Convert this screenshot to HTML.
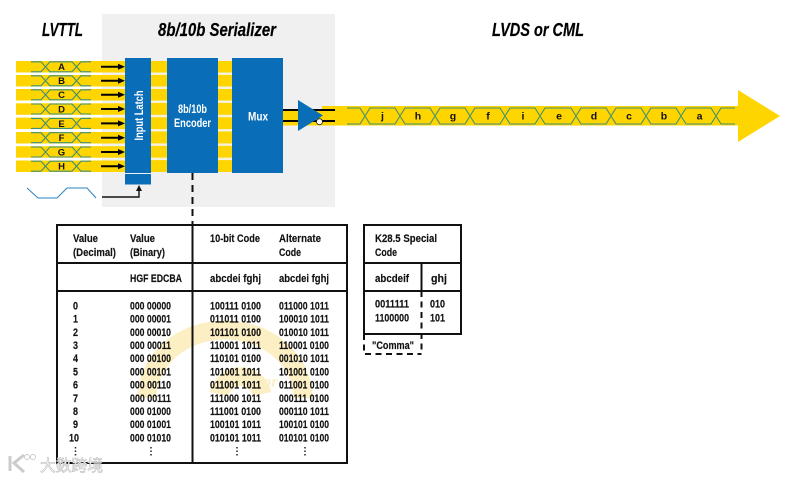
<!DOCTYPE html>
<html><head><meta charset="utf-8"><style>
html,body{margin:0;padding:0;background:#fff}
svg{display:block;filter:blur(0.3px)}
text{font-family:"Liberation Sans","Noto Sans CJK SC",sans-serif;font-weight:bold;font-size:11px;fill:#111}
.t text{font-size:11px;stroke:#111;stroke-width:.15}
.ttl{font-size:18px;font-style:italic;fill:#000;stroke:#000;stroke-width:.2}
.w{fill:#fff;font-size:12px}
.lb{font-size:9.5px;text-anchor:middle}
.lo{font-size:10.5px;text-anchor:middle}
</style></head><body>
<svg width="786" height="479" viewBox="0 0 786 479" xmlns="http://www.w3.org/2000/svg">
<defs>
<g id="eye"><path d="M31 -5H41L50 5H72L81 -5H91M31 5H41L50 -5H72L81 5H91" fill="none" stroke="#3f8f76" stroke-width="1.1"/></g>
<g id="ar"><path d="M101 0H120" stroke="#000" stroke-width="2"/><path d="M118 -3L125 0L118 3Z" fill="#000"/></g>
</defs>
<rect x="102" y="14" width="233" height="193" fill="#f0f0f0"/>

<!-- input bars -->
<g fill="#ffd500">
<rect x="16" y="61" width="109" height="11.5"/><rect x="16" y="75" width="109" height="11.5"/>
<rect x="16" y="89" width="109" height="11.5"/><rect x="16" y="103.3" width="109" height="11.5"/>
<rect x="16" y="117.6" width="109" height="11.5"/><rect x="16" y="132" width="109" height="11.5"/>
<rect x="16" y="146.2" width="109" height="11.5"/><rect x="16" y="160.5" width="109" height="11.5"/>
</g>
<use href="#eye" y="66.8"/><use href="#eye" y="80.8"/><use href="#eye" y="94.8"/><use href="#eye" y="109"/>
<use href="#eye" y="123.4"/><use href="#eye" y="137.7"/><use href="#eye" y="152"/><use href="#eye" y="166.2"/>
<use href="#ar" y="66.8"/><use href="#ar" y="80.8"/><use href="#ar" y="94.8"/><use href="#ar" y="109"/>
<use href="#ar" y="123.4"/><use href="#ar" y="137.7"/><use href="#ar" y="152"/><use href="#ar" y="166.2"/>
<text class="lb" x="61.5" y="70.2">A</text><text class="lb" x="61.5" y="84.2">B</text>
<text class="lb" x="61.5" y="98.2">C</text><text class="lb" x="61.5" y="112.4">D</text>
<text class="lb" x="61.5" y="126.8">E</text><text class="lb" x="61.5" y="141.1">F</text>
<text class="lb" x="61.5" y="155.4">G</text><text class="lb" x="61.5" y="169.6">H</text>

<!-- internal yellow buses -->
<rect x="151" y="61" width="16" height="111" fill="#ffd500"/>
<rect x="218" y="61" width="14" height="111" fill="#ffd500"/>
<g fill="#f6f1d8">
<rect x="151" y="72.5" width="16" height="2.5"/><rect x="151" y="86.5" width="16" height="2.5"/><rect x="151" y="100.5" width="16" height="2.5"/><rect x="151" y="114.8" width="16" height="2.5"/><rect x="151" y="129" width="16" height="2.5"/><rect x="151" y="143.4" width="16" height="2.5"/><rect x="151" y="157.6" width="16" height="2.5"/>
<rect x="218" y="72.5" width="14" height="2.5"/><rect x="218" y="86.5" width="14" height="2.5"/><rect x="218" y="100.5" width="14" height="2.5"/><rect x="218" y="114.8" width="14" height="2.5"/><rect x="218" y="129" width="14" height="2.5"/><rect x="218" y="143.4" width="14" height="2.5"/><rect x="218" y="157.6" width="14" height="2.5"/>
</g>
<!-- blocks -->
<g fill="#0a6db7">
<rect x="125" y="58" width="26" height="115"/><rect x="125" y="174" width="26" height="10.5"/>
<rect x="167" y="58" width="51" height="115"/><rect x="232" y="58" width="51" height="115"/>
</g>
<text class="w" transform="translate(143,140.5) rotate(-90)" textLength="50" lengthAdjust="spacingAndGlyphs">Input Latch</text>
<text class="w" x="178" y="113" textLength="29" lengthAdjust="spacingAndGlyphs">8b/10b</text>
<text class="w" x="174" y="127" textLength="37" lengthAdjust="spacingAndGlyphs">Encoder</text>
<text class="w" x="248" y="120.5" textLength="20" lengthAdjust="spacingAndGlyphs">Mux</text>

<!-- clock -->
<polyline points="27,188 38,198 57,198 67,188 87,188 96,198" fill="none" stroke="#2a82c0" stroke-width="1"/>
<path d="M102 197H139V189" fill="none" stroke="#111" stroke-width="1.4"/>
<path d="M136 191L139 185L142 191Z" fill="#111"/>

<!-- output -->
<rect x="283" y="110" width="50" height="15.5" fill="#ffd500"/>
<rect x="322" y="106" width="417" height="19.5" fill="#ffd500"/>
<path d="M738 90L780 116L738 142Z" fill="#ffd500"/>
<path d="M283 110H335M283 121H335" stroke="#000" stroke-width="2"/>
<path d="M298 100L323 115.5L298 131Z" fill="#0a6db7"/>
<circle cx="319.5" cy="121.7" r="3" fill="#fff" stroke="#222" stroke-width="0.8"/>
<path d="M347 108H360L370 124H395L405 108H430L440 124H465L475 108H500L510 124H535L545 108H571L581 124H606L616 108H641L651 124H676L686 108H711L721 124H735M347 124H360L370 108H395L405 124H430L440 108H465L475 124H500L510 108H535L545 124H571L581 108H606L616 124H641L651 108H676L686 124H711L721 108H735" fill="none" stroke="#3f8f76" stroke-width="1.1"/>
<text class="lo" x="382.5" y="119.5">j</text><text class="lo" x="418" y="119.5">h</text><text class="lo" x="453" y="119.5">g</text><text class="lo" x="488" y="119.5">f</text><text class="lo" x="523" y="119.5">i</text><text class="lo" x="559" y="119.5">e</text><text class="lo" x="594" y="119.5">d</text><text class="lo" x="629" y="119.5">c</text><text class="lo" x="664" y="119.5">b</text><text class="lo" x="699.5" y="119.5">a</text>

<!-- titles -->
<text class="ttl" x="42" y="36" textLength="41" lengthAdjust="spacingAndGlyphs">LVTTL</text>
<text class="ttl" x="158" y="36" textLength="118" lengthAdjust="spacingAndGlyphs">8b/10b Serializer</text>
<text class="ttl" x="492" y="36" textLength="92" lengthAdjust="spacingAndGlyphs">LVDS or CML</text>

<path d="M192.5 173V225" stroke="#111" stroke-width="2" stroke-dasharray="7 5"/>

<!-- watermark arcs -->
<g fill="none" stroke="#fdefc4" stroke-width="19">
<path d="M147 398A78 68 0 0 1 303 398"/>
<path d="M219 394A22 22 0 0 1 262 394"/>
</g>
<text x="262" y="387" style="font-size:15px;font-style:italic;fill:#fdefc4">or</text>

<!-- main table -->
<g fill="none" stroke="#111" stroke-width="2">
<rect x="57" y="225" width="290" height="238"/>
<path d="M57 263H347M57 291H347M192.5 225V463"/>
<path d="M364 225H461V334H364ZM364 263H461M364 291H461M421.5 263V291"/>
<path d="M421.5 291V353M364 334V354H421.5" stroke-dasharray="6 4.5"/>
</g>

<g class="t">
<text x="73" y="242" textLength="25" lengthAdjust="spacingAndGlyphs">Value</text>
<text x="73" y="256" textLength="43" lengthAdjust="spacingAndGlyphs">(Decimal)</text>
<text x="130" y="242" textLength="25" lengthAdjust="spacingAndGlyphs">Value</text>
<text x="130" y="256" textLength="35" lengthAdjust="spacingAndGlyphs">(Binary)</text>
<text x="210" y="242" textLength="50" lengthAdjust="spacingAndGlyphs">10-bit Code</text>
<text x="279" y="242" textLength="42" lengthAdjust="spacingAndGlyphs">Alternate</text>
<text x="279" y="256" textLength="22" lengthAdjust="spacingAndGlyphs">Code</text>
<text x="130" y="282" textLength="52" lengthAdjust="spacingAndGlyphs">HGF EDCBA</text>
<text x="210" y="282" textLength="51" lengthAdjust="spacingAndGlyphs">abcdei fghj</text>
<text x="279" y="282" textLength="50" lengthAdjust="spacingAndGlyphs">abcdei fghj</text>

<text x="73" y="309.4" textLength="5" lengthAdjust="spacingAndGlyphs">0</text><text x="130" y="309.4" textLength="41" lengthAdjust="spacingAndGlyphs">000 00000</text><text x="210" y="309.4" textLength="51" lengthAdjust="spacingAndGlyphs">100111 0100</text><text x="279" y="309.4" textLength="50" lengthAdjust="spacingAndGlyphs">011000 1011</text>
<text x="73" y="322.6" textLength="5" lengthAdjust="spacingAndGlyphs">1</text><text x="130" y="322.6" textLength="41" lengthAdjust="spacingAndGlyphs">000 00001</text><text x="210" y="322.6" textLength="51" lengthAdjust="spacingAndGlyphs">011011 0100</text><text x="279" y="322.6" textLength="50" lengthAdjust="spacingAndGlyphs">100010 1011</text>
<text x="73" y="335.8" textLength="5" lengthAdjust="spacingAndGlyphs">2</text><text x="130" y="335.8" textLength="41" lengthAdjust="spacingAndGlyphs">000 00010</text><text x="210" y="335.8" textLength="51" lengthAdjust="spacingAndGlyphs">101101 0100</text><text x="279" y="335.8" textLength="50" lengthAdjust="spacingAndGlyphs">010010 1011</text>
<text x="73" y="349" textLength="5" lengthAdjust="spacingAndGlyphs">3</text><text x="130" y="349" textLength="41" lengthAdjust="spacingAndGlyphs">000 00011</text><text x="210" y="349" textLength="51" lengthAdjust="spacingAndGlyphs">110001 1011</text><text x="279" y="349" textLength="50" lengthAdjust="spacingAndGlyphs">110001 0100</text>
<text x="73" y="362.2" textLength="5" lengthAdjust="spacingAndGlyphs">4</text><text x="130" y="362.2" textLength="41" lengthAdjust="spacingAndGlyphs">000 00100</text><text x="210" y="362.2" textLength="51" lengthAdjust="spacingAndGlyphs">110101 0100</text><text x="279" y="362.2" textLength="50" lengthAdjust="spacingAndGlyphs">001010 1011</text>
<text x="73" y="375.4" textLength="5" lengthAdjust="spacingAndGlyphs">5</text><text x="130" y="375.4" textLength="41" lengthAdjust="spacingAndGlyphs">000 00101</text><text x="210" y="375.4" textLength="51" lengthAdjust="spacingAndGlyphs">101001 1011</text><text x="279" y="375.4" textLength="50" lengthAdjust="spacingAndGlyphs">101001 0100</text>
<text x="73" y="388.6" textLength="5" lengthAdjust="spacingAndGlyphs">6</text><text x="130" y="388.6" textLength="41" lengthAdjust="spacingAndGlyphs">000 00110</text><text x="210" y="388.6" textLength="51" lengthAdjust="spacingAndGlyphs">011001 1011</text><text x="279" y="388.6" textLength="50" lengthAdjust="spacingAndGlyphs">011001 0100</text>
<text x="73" y="401.8" textLength="5" lengthAdjust="spacingAndGlyphs">7</text><text x="130" y="401.8" textLength="41" lengthAdjust="spacingAndGlyphs">000 00111</text><text x="210" y="401.8" textLength="51" lengthAdjust="spacingAndGlyphs">111000 1011</text><text x="279" y="401.8" textLength="50" lengthAdjust="spacingAndGlyphs">000111 0100</text>
<text x="73" y="415" textLength="5" lengthAdjust="spacingAndGlyphs">8</text><text x="130" y="415" textLength="41" lengthAdjust="spacingAndGlyphs">000 01000</text><text x="210" y="415" textLength="51" lengthAdjust="spacingAndGlyphs">111001 0100</text><text x="279" y="415" textLength="50" lengthAdjust="spacingAndGlyphs">000110 1011</text>
<text x="73" y="428.2" textLength="5" lengthAdjust="spacingAndGlyphs">9</text><text x="130" y="428.2" textLength="41" lengthAdjust="spacingAndGlyphs">000 01001</text><text x="210" y="428.2" textLength="51" lengthAdjust="spacingAndGlyphs">100101 1011</text><text x="279" y="428.2" textLength="50" lengthAdjust="spacingAndGlyphs">100101 0100</text>
<text x="69" y="441.4" textLength="10" lengthAdjust="spacingAndGlyphs">10</text><text x="130" y="441.4" textLength="41" lengthAdjust="spacingAndGlyphs">000 01010</text><text x="210" y="441.4" textLength="51" lengthAdjust="spacingAndGlyphs">010101 1011</text><text x="279" y="441.4" textLength="50" lengthAdjust="spacingAndGlyphs">010101 0100</text>

<text x="375" y="242" textLength="62" lengthAdjust="spacingAndGlyphs">K28.5 Special</text>
<text x="375" y="256" textLength="22" lengthAdjust="spacingAndGlyphs">Code</text>
<text x="375" y="282" textLength="34" lengthAdjust="spacingAndGlyphs">abcdeif</text>
<text x="431" y="282" textLength="16" lengthAdjust="spacingAndGlyphs">ghj</text>
<text x="375" y="307.5" textLength="34" lengthAdjust="spacingAndGlyphs">0011111</text>
<text x="375" y="321.5" textLength="34" lengthAdjust="spacingAndGlyphs">1100000</text>
<text x="430" y="307.5" textLength="15" lengthAdjust="spacingAndGlyphs">010</text>
<text x="430" y="321.5" textLength="15" lengthAdjust="spacingAndGlyphs">101</text>
<text x="372" y="349" textLength="42" lengthAdjust="spacingAndGlyphs">"Comma"</text>
</g>

<!-- vertical ellipses -->
<g stroke="#222" stroke-width="1.5" stroke-dasharray="1.5 2">
<path d="M75.5 447V457M151 447V457M237 447V457M305 447V457"/>
</g>

<!-- logo watermark -->
<g>
<path d="M10 456V471M24 455L14 463L24 472" fill="none" stroke="#ccc" stroke-width="3"/>
<circle cx="27" cy="457" r="2.5" fill="none" stroke="#ccc" stroke-width="1"/>
<circle cx="33" cy="457" r="2.5" fill="none" stroke="#ccc" stroke-width="1"/>
<text x="40" y="471" textLength="63" lengthAdjust="spacingAndGlyphs" style="font-size:16px;fill:#fff;stroke:#bbb;stroke-width:.6;font-weight:normal">大数跨境</text>
</g>
</svg>
</body></html>
